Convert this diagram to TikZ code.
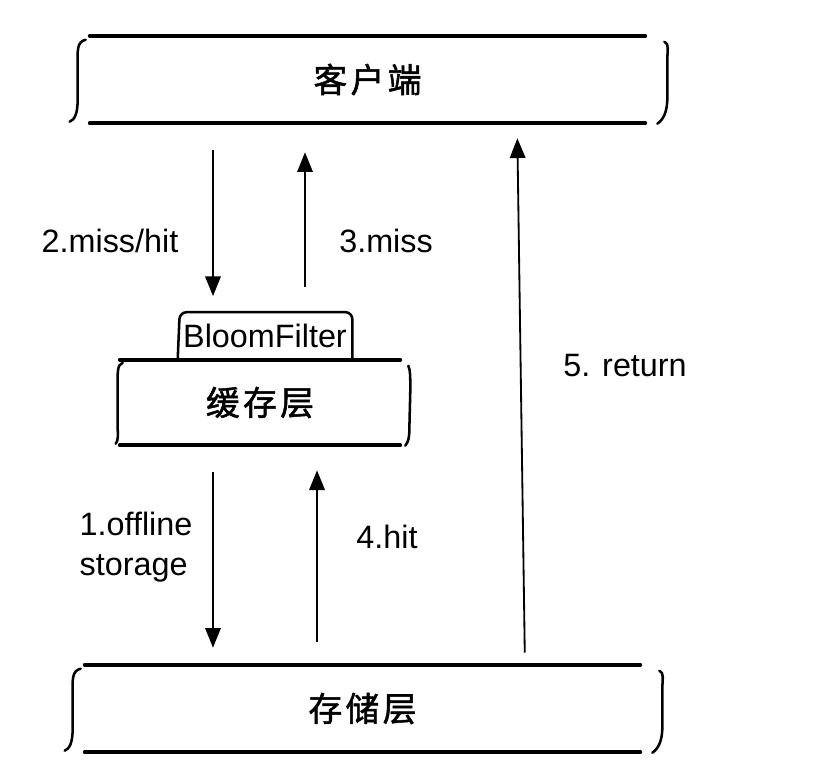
\documentclass[tikz,border=0pt]{standalone}
\usepackage{fontspec}
\setmainfont{Liberation Sans}
\newfontfamily\cjk[LetterSpace=10,FakeBold=1.5]{Noto Sans CJK SC}
\usepackage{tikz}
\usetikzlibrary{positioning,arrows.meta}

\begin{document}
\begin{tikzpicture}[x=0.025cm,y=-0.025cm,>={Triangle[length=14pt,width=11pt]}]

  \tikzset{layer/.style={inner sep=0pt,font=\cjk\fontsize{24}{28}\selectfont},
    rail/.style={line width=2.6pt,line cap=round},
    brace/.style={line width=1.8pt,line cap=round},
    flow/.style={->,line width=1.3pt},
    lbl/.style={font=\fontsize{23}{28.5}\selectfont}}

  \useasboundingbox (0,0) rectangle (819,772);

  \node[layer,minimum width=13.875cm,minimum height=2.175cm] (client) at (367.5,79.5) {客户端};
  \node[layer,minimum width=7cm,minimum height=2.125cm] (cache) at (260,402.5) {缓存层};
  \node[layer,minimum width=13.875cm,minimum height=2.175cm] (storage) at (362.5,708.5) {存储层};
  \node[lbl,inner sep=0pt,minimum width=4.35cm,minimum height=1.175cm] (bloom) [above = 0pt of cache.north,xshift=0.125cm] {BloomFilter};

  % rails and braces of the layers
  \foreach \n in {client,cache,storage}{
    \draw[rail] (\n.north west) -- (\n.north east);
    \draw[rail] (\n.south west) -- (\n.south east);
  }
  \foreach \n in {client,storage}{
    \begin{scope}[shift={(\n.north west)}]
      \draw[brace] (-4,4) .. controls (-13,6) and (-12,16) .. (-12,26) -- (-12,64) .. controls (-12,78) and (-15,84) .. (-20,86);
    \end{scope}
    \begin{scope}[shift={(\n.north east)}]
      \draw[brace] (19,6) .. controls (24,8) and (22,14) .. (22,24) -- (22,62) .. controls (22,76) and (18,84) .. (12,88);
    \end{scope}
  }
  \begin{scope}[shift={(cache.north west)}]
    \draw[brace] (3,3) .. controls (-3,5) and (-2,14) .. (-2,30) -- (-2,66) .. controls (-2,76) and (-1,80) .. (-4,84);
  \end{scope}
  \begin{scope}[shift={(cache.north east)}]
    \draw[brace] (8,6) .. controls (10,10) and (10,18) .. (10,30) -- (9,70) .. controls (9,78) and (8,82) .. (5,86);
  \end{scope}
  \draw[brace,rounded corners=5pt] (bloom.south west) -- ([xshift=0.05cm]bloom.north west) -- (bloom.north east) -- (bloom.south east);

  \draw[flow,shorten <=0.675cm,shorten >=0.4cm] ([xshift=-1.3cm]bloom.north |- client.south) -- ([xshift=-1.3cm]bloom.north);
  \draw[flow,shorten <=0.625cm,shorten >=0.725cm] ([xshift=1cm]bloom.north) -- ([xshift=1cm]bloom.north |- client.south);
  \draw[flow,shorten <=0.675cm,shorten >=0.425cm] ([xshift=-1.175cm]cache.south) -- ([xshift=-1.175cm]cache.south |- storage.north);
  \draw[flow,shorten <=0.575cm,shorten >=0.625cm] ([xshift=1.425cm]cache.south |- storage.north) -- ([xshift=1.425cm]cache.south);
  \draw[flow,shorten <=0.3cm,shorten >=0.375cm] ([xshift=4.06cm]storage.north) -- ([xshift=3.74cm]client.south);

  \node[lbl] (miss2) at (110,241) {2.miss/hit};
  \node[lbl] (miss3) at (386,241) {3.miss};
  \node[lbl] (ret5) at (625,366) {5. return};
  \node[lbl,align=left] (off1) at (136,547) {1.offline\\storage};
  \node[lbl] (hit4) at (387,537) {4.hit};
\end{tikzpicture}
\end{document}
